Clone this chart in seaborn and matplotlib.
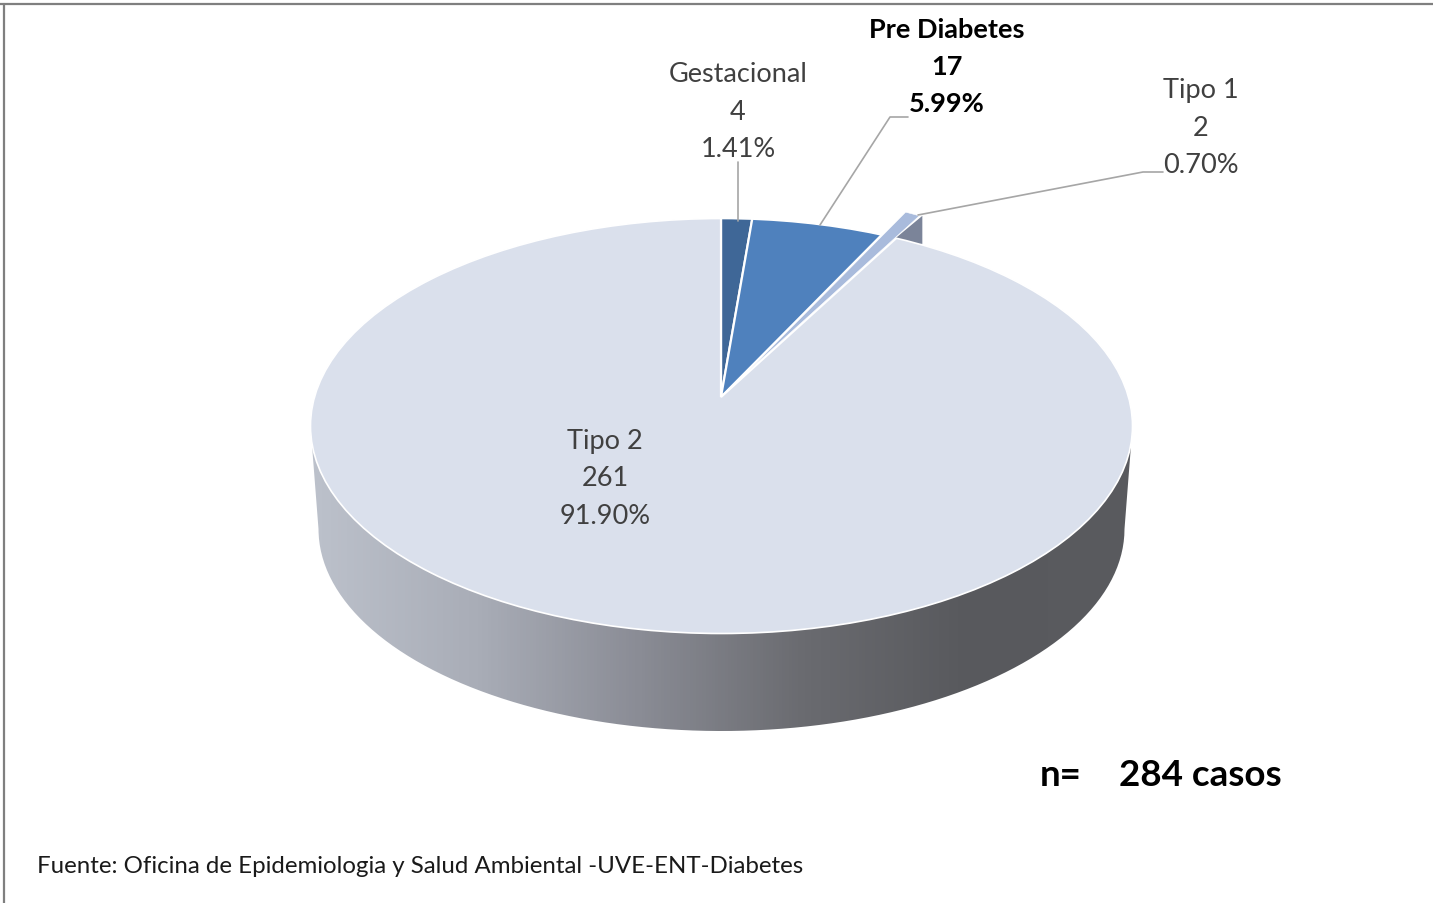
"""Casos de diabetes por tipo - pie 3D."""

import numpy as np
import matplotlib
matplotlib.use("Agg")
import matplotlib.pyplot as plt
from matplotlib.patches import Ellipse, PathPatch
from matplotlib.path import Path
from matplotlib.transforms import Affine2D
import seaborn as sns

categories = ["Gestacional", "Pre Diabetes", "Tipo 1", "Tipo 2"]
counts = [4, 17, 2, 261]
percents = ["1.41%", "5.99%", "0.70%", "91.90%"]
explode = [0, 0, 0.17, 0]
colors = ["#3f6797", "#4f81bd", "#a9bbdc", "#dae0ec"]
side_colors = ["#bcc1cb", "#a9adb7", "#8a8c95", "#6a6b70", "#58595d", "#5a5b5f"]

sns.set_theme(style="white")
plt.rcParams["font.family"] = ["Lato", "DejaVu Sans"]

fig = plt.figure(figsize=(14.33, 9.04), dpi=100)
ax = fig.add_axes([0, 0, 1, 1])

wedges, _ = ax.pie(
    counts,
    explode=explode,
    colors=colors,
    startangle=90,
    counterclock=False,
    wedgeprops={"edgecolor": "white", "linewidth": 1.6},
)

ax.set_aspect("auto")
ax.set_xlim(0, 1433)
ax.set_ylim(904, 0)
ax.axis("off")

# top face and side of the disc, in pixels
cx, cy, rx, ry = 721.5, 427, 411, 207.5
apex_x, apex_y, pie_rx, pie_ry = 721, 398, 350, 177
bottom_cy, bottom_rx, bottom_ry = 530, 403, 202

top_face = Ellipse((cx, cy), 2 * rx, 2 * ry, facecolor="none", edgecolor="white", linewidth=1.2, zorder=5)
ax.add_patch(top_face)

# wedges come from ax.pie, only squashed to the tilted view
scales = [1.1, 1.1, 1.0, 1.5]
for wedge, scale in zip(wedges, scales):
    wedge.set_transform(
        Affine2D().scale(pie_rx * scale, -pie_ry * scale).translate(apex_x, apex_y) + ax.transData
    )
    wedge.set_zorder(4)
    if scale != 1.0:
        wedge.set_clip_on(True)
        wedge.set_clip_path(top_face)

sliver = wedges[2]
sliver.set_zorder(6)
sliver.set_linewidth(0.4)

# side of the exploded slice, a triangle hanging under its lower edge
low = np.radians(sliver.theta1)
tip_x = apex_x + (sliver.center[0] + np.cos(low)) * pie_rx
tip_y = apex_y - (sliver.center[1] + np.sin(low)) * pie_ry
back_x = apex_x + (sliver.center[0] + 0.8 * np.cos(low)) * pie_rx
back_y = apex_y - (sliver.center[1] + 0.8 * np.sin(low)) * pie_ry
ax.fill([tip_x + 3, tip_x + 3, back_x], [tip_y, tip_y + 28, back_y], color="#7b8499", linewidth=0, zorder=3.5)

# rim with the horizontal shading
theta = np.linspace(0, np.pi, 200)
rim_top_x = cx + rx * np.cos(theta[::-1])
rim_top_y = cy + ry * np.sin(theta[::-1])
rim_x = np.concatenate([cx + bottom_rx * np.cos(theta), rim_top_x])
rim_y = np.concatenate([bottom_cy + bottom_ry * np.sin(theta), rim_top_y])
rim = PathPatch(Path(np.column_stack([rim_x, rim_y])), transform=ax.transData, facecolor="none", edgecolor="none")
ax.add_patch(rim)

side_cmap = sns.blend_palette(side_colors, as_cmap=True)
shade = ax.imshow(
    np.linspace(0, 1, 256).reshape(1, -1),
    cmap=side_cmap,
    extent=(312, 1131, 740, 420),
    aspect="auto",
    zorder=2,
)
shade.set_clip_path(rim)
ax.set_xlim(0, 1433)
ax.set_ylim(904, 0)

label_color = "#404040"
label_pos = [(738, 112), (947, 67), (1201, 128), (605, 479)]
for i, (x, y) in enumerate(label_pos):
    is_bold = categories[i] == "Pre Diabetes"
    ax.text(
        x, y,
        f"{categories[i]}\n{counts[i]}\n{percents[i]}",
        ha="center",
        va="center",
        fontsize=19.5,
        linespacing=1.64,
        color="black" if is_bold else label_color,
        fontweight="bold" if is_bold else "normal",
        zorder=7,
    )

# leader lines
leader = {"color": "#a6a6a6", "linewidth": 1.2, "zorder": 7}
ax.plot([738, 738], [163, 222], **leader)
ax.plot([908, 890, 820], [118, 118, 226], **leader)
ax.plot([1163, 1143, 918], [173, 173, 216], **leader)

ax.text(1040, 776, "n=", fontsize=26.5, fontweight="bold", color="black", va="center")
ax.text(1119, 776, "284 casos", fontsize=26.5, fontweight="bold", color="black", va="center")
ax.text(37, 867, "Fuente: Oficina de Epidemiologia y Salud Ambiental -UVE-ENT-Diabetes", fontsize=17.3, color="#1a1a1a", va="center")

# chart frame, only top and left survive the crop
frame = {"color": "#7f7f7f", "linewidth": 1.6, "zorder": 8}
ax.plot([0, 1433], [4.5, 4.5], **frame)
ax.plot([4.5, 4.5], [4.5, 904], **frame)

fig.savefig("out.png", dpi=100)
